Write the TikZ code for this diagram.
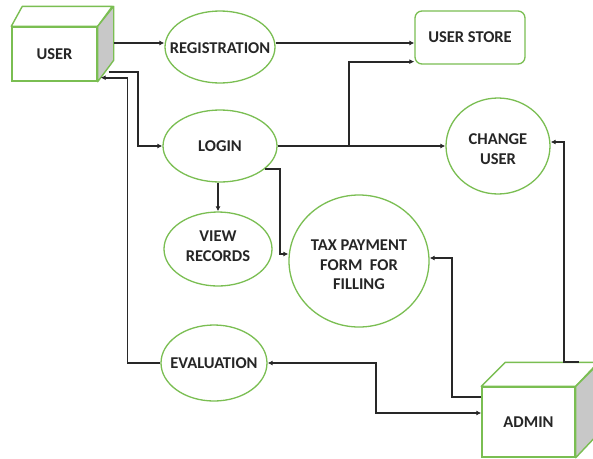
\documentclass[tikz,border=0pt]{standalone}
\usepackage{fontspec}
\setmainfont{Carlito}
\usetikzlibrary{shapes.geometric,arrows.meta}
\definecolor{dfdgreen}{RGB}{122,190,82}
\definecolor{dfdline}{RGB}{40,40,40}
\definecolor{dfdtext}{RGB}{38,38,38}
\definecolor{dfdside}{RGB}{200,200,200}
\tikzset{
  lbl/.style={font=\bfseries\fontsize{16.5}{19.5}\selectfont, text=dfdtext, align=center, inner sep=0pt},
  proc/.style={ellipse, draw=dfdgreen, line width=1.3pt, inner sep=0pt},
  storebox/.style={rectangle, rounded corners=7pt, draw=dfdgreen, line width=1.3pt,
    font=\bfseries\fontsize{16.5}{19.5}\selectfont, text=dfdtext},
  entfront/.style={rectangle, draw=dfdgreen, line width=1.4pt, fill=white,
    font=\bfseries\fontsize{16.5}{19.5}\selectfont, text=dfdtext},
  entface/.style={draw=dfdgreen, line width=1.4pt, line join=round},
  flow/.style={draw=dfdline, line width=1.7pt, -{Latex[length=5pt,width=5pt]}},
  flowboth/.style={draw=dfdline, line width=1.7pt, {Latex[length=5pt,width=5pt]}-{Latex[length=5pt,width=5pt]}}
}
\begin{document}
\begin{tikzpicture}[x=1pt,y=-1pt]
\useasboundingbox (0,0) rectangle (593,458);
\clip (0,0) rectangle (593,458);
\fill[white] (0,0) rectangle (593,458);

% USER entity (3D box)
\node[entfront, minimum width=85pt, minimum height=54pt] (user) at (54.5,54) {USER};
\draw[entface, fill=white] (user.north west) -- ++(11,-20) -- ++(90,0) -- (user.north east) -- cycle;
\draw[entface, fill=dfdside] (user.north east) -- ++(16,-20) -- ++(0,54) -- (user.south east) -- cycle;

% ADMIN entity (3D box)
\node[entfront, minimum width=93pt, minimum height=70pt] (admin) at (528.5,422) {ADMIN};
\draw[entface, fill=white] (admin.north west) -- ++(24,-24) -- ++(93,0) -- (admin.north east) -- cycle;
\draw[entface, fill=dfdside] (admin.north east) -- ++(24,-24) -- ++(0,70) -- (admin.south east) -- cycle;

% processes
\node[proc, minimum width=110pt, minimum height=72pt,
  label={[lbl, yshift=-1pt]center:REGISTRATION}] (reg) at (220,47) {};
\node[proc, minimum width=114pt, minimum height=72pt,
  label={[lbl]center:LOGIN}] (login) at (220,146) {};
\node[storebox, minimum width=110pt, minimum height=53pt] (store) at (470,37.5) {USER STORE};
\node[proc, minimum width=104pt, minimum height=96pt,
  label={[lbl, yshift=-3pt]center:CHANGE\\USER}] (change) at (498,146) {};
\node[proc, minimum width=108pt, minimum height=74pt,
  label={[lbl, yshift=3pt]center:VIEW\\RECORDS}] (view) at (218,249) {};
\node[proc, minimum width=140pt, minimum height=132pt,
  label={[lbl, yshift=-4pt]center:TAX PAYMENT\\FORM~ FOR\\FILLING}] (tax) at (359,261) {};
\node[proc, minimum width=106pt, minimum height=76pt,
  label={[lbl]center:EVALUATION}] (eval) at (214,363) {};

% connectors
\draw[flow] ([xshift=16pt,yshift=11pt]user.east) -- ([yshift=4pt]reg.west);
\draw[flow] ([yshift=4pt]reg.east) -- (store.west |- 0,43);
\draw[flow] (login.east) -- ++(71,0) |- ([yshift=3pt]store.south west);
\draw[flow] (login.east) -- (change.west);
\draw[flow] ([xshift=11pt,yshift=10pt]user.south east) -- ++(29,0) |- (login.west);
\draw[flow] (eval.west) -- ++(-33,0) |- ([xshift=3pt,yshift=4pt]user.south east);
\draw[flow] (login.south -| view.north) -- (view.north);
\draw[flow] (login.-27) -- ++(15,0) |- ([yshift=7pt]tax.west);
\draw[flow] ([yshift=25pt]admin.west) -- ++(-29,0) |- ([yshift=3pt]tax.east);
\draw[flowboth] (eval.east) -- ++(108,0) |- ([yshift=9pt]admin.west);
\draw[flow] ([xshift=3pt,yshift=24pt]admin.north east) -- ++(-15,0) |- ([yshift=4pt]change.east);
\end{tikzpicture}
\end{document}
